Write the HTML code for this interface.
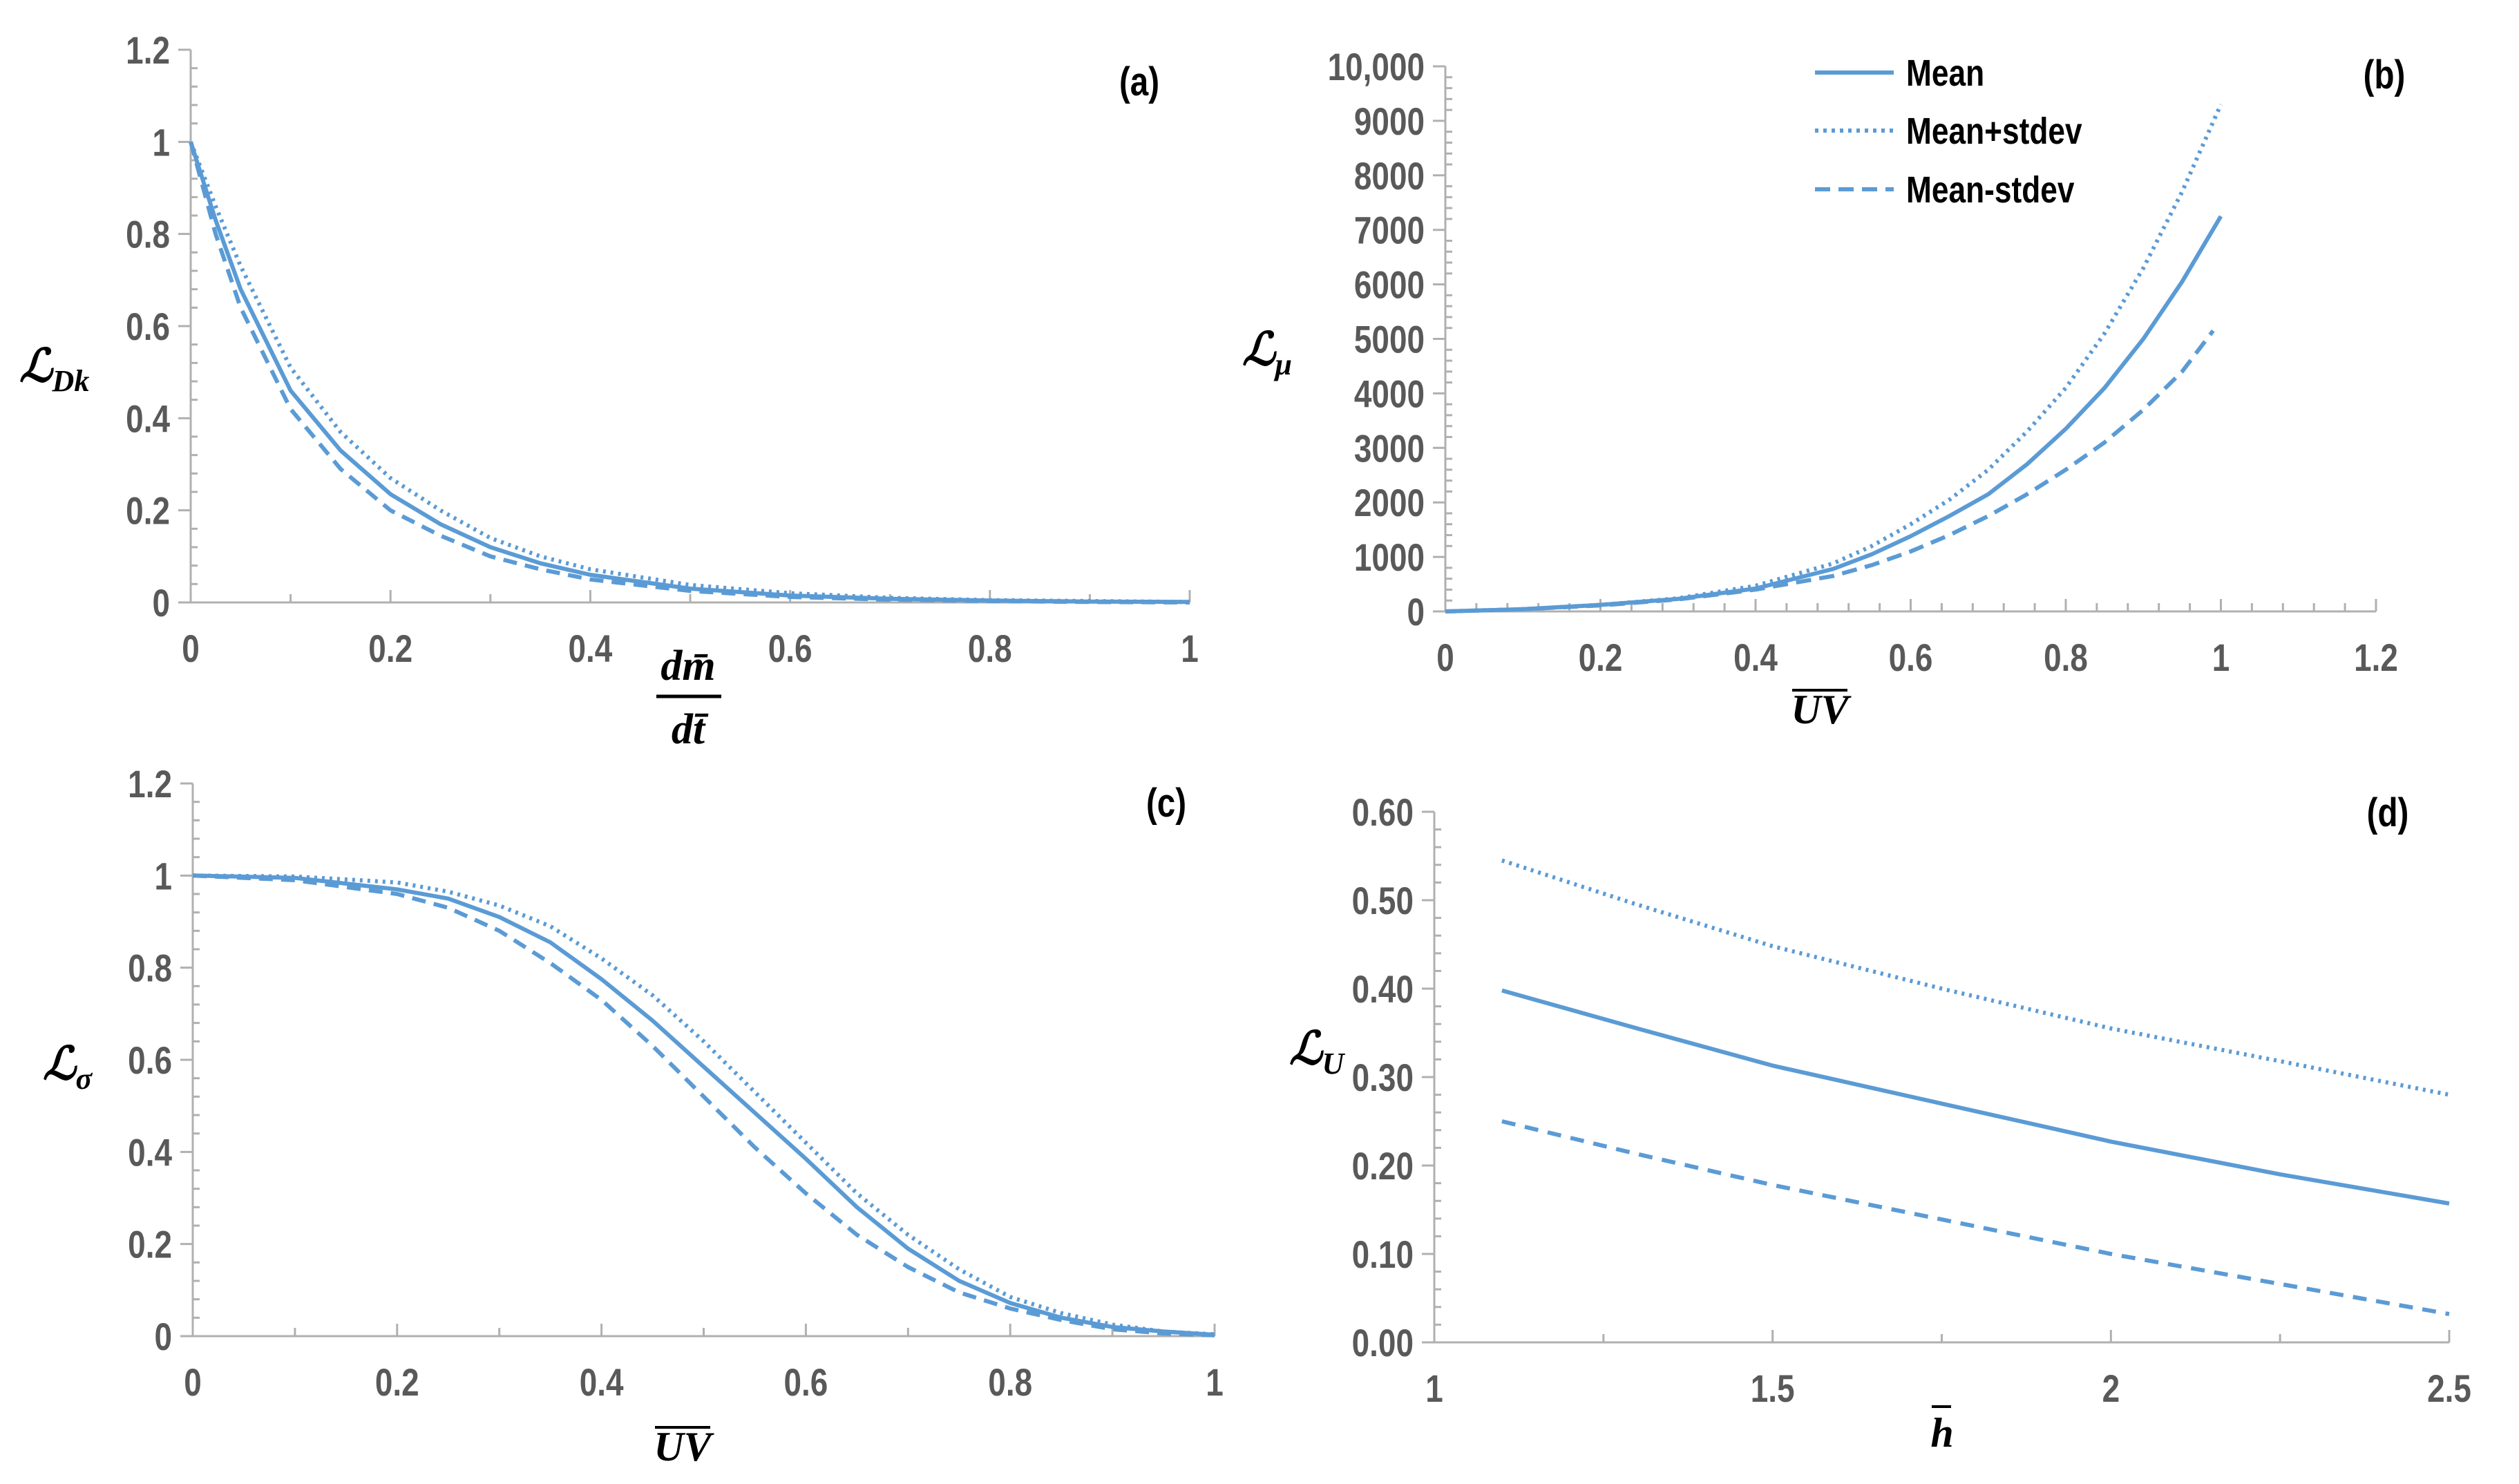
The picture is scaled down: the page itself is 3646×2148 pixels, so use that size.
<!DOCTYPE html>
<html><head><meta charset="utf-8"><style>
html,body{margin:0;padding:0;background:#fff;}
svg{display:block;}
text{font-family:"Liberation Sans Narrow","Liberation Sans",sans-serif;font-weight:bold;}
.tick{fill:#595959;font-size:56px;}
.math{font-family:"Liberation Serif","DejaVu Serif",serif;font-style:italic;font-weight:bold;fill:#000;}
.plabel{fill:#000;font-size:58px;}
.leg{fill:#000;font-size:54px;}
</style></head><body>
<svg id="fig" width="3646" height="2148" viewBox="0 0 3646 2148" xmlns="http://www.w3.org/2000/svg">
<g id="root"></g>
<text class="plabel" transform="translate(1649,138) scale(0.82,1)" text-anchor="middle">(a)</text>
<text class="plabel" transform="translate(3451,128) scale(0.82,1)" text-anchor="middle">(b)</text>
<text class="plabel" transform="translate(1688,1182) scale(0.82,1)" text-anchor="middle">(c)</text>
<text class="plabel" transform="translate(3456,1196) scale(0.82,1)" text-anchor="middle">(d)</text>

<text class="math" x="28" y="552" font-size="66">ℒ<tspan font-size="44" dy="14">Dk</tspan></text>
<g>
<text class="math" x="996" y="984" font-size="62" text-anchor="middle">dm̄</text>
<line x1="950" y1="1008" x2="1044" y2="1008" stroke="#000" stroke-width="5"/>
<text class="math" x="996" y="1076" font-size="62" text-anchor="middle">dt̄</text>
</g>
<text class="math" x="1798" y="528" font-size="66">ℒ<tspan font-size="44" dy="14">μ</tspan></text>
<g>
<line x1="2594" y1="999" x2="2674" y2="999" stroke="#000" stroke-width="4"/>
<text class="math" x="2634" y="1047" font-size="60" text-anchor="middle">UV</text>
</g>
<text class="math" x="62" y="1562" font-size="66">ℒ<tspan font-size="44" dy="14">σ</tspan></text>
<g>
<line x1="948" y1="2066" x2="1028" y2="2066" stroke="#000" stroke-width="4"/>
<text class="math" x="988" y="2114" font-size="60" text-anchor="middle">UV</text>
</g>
<text class="math" x="1866" y="1540" font-size="66">ℒ<tspan font-size="44" dy="14">U</tspan></text>
<g>
<line x1="2796" y1="2036" x2="2824" y2="2036" stroke="#000" stroke-width="4"/>
<text class="math" x="2811" y="2094" font-size="60" text-anchor="middle">h</text>
</g>

<g>
<g>
<line x1="2627" y1="105" x2="2741" y2="105" stroke="#5b9bd5" stroke-width="6"/>
<text class="leg" transform="translate(2759,124) scale(0.82,1)">Mean</text></g>
<g>
<line x1="2627" y1="189" x2="2741" y2="189" stroke="#5b9bd5" stroke-width="6" stroke-dasharray="5,7"/>
<text class="leg" transform="translate(2759,208) scale(0.82,1)">Mean+stdev</text></g>
<g>
<line x1="2627" y1="274" x2="2741" y2="274" stroke="#5b9bd5" stroke-width="6" stroke-dasharray="22,12"/>
<text class="leg" transform="translate(2759,293) scale(0.82,1)">Mean-stdev</text></g>
</g>
</svg>
<script>
// Panel (a)
const aX=[0,0.025,0.05,0.1,0.15,0.2,0.25,0.3,0.35,0.4,0.5,0.6,0.7,0.8,0.9,1];
const aMean=[1,0.83,0.68,0.46,0.33,0.235,0.17,0.12,0.085,0.06,0.03,0.015,0.008,0.004,0.002,0.001];
const aUpper=[1,0.86,0.73,0.51,0.37,0.27,0.2,0.14,0.1,0.072,0.038,0.02,0.01,0.005,0.003,0.001];
const aLower=[1,0.8,0.64,0.42,0.29,0.2,0.145,0.1,0.072,0.05,0.025,0.012,0.006,0.003,0.001,0];
const aYTicks=["0","0.2","0.4","0.6","0.8","1","1.2"];
const aXTicks=["0","0.2","0.4","0.6","0.8","1"];
// Panel (b)
const bX=[0,0.1,0.2,0.3,0.4,0.5,0.55,0.6,0.65,0.7,0.75,0.8,0.85,0.9,0.95,1];
const bMean=[0,40,120,230,420,780,1050,1380,1750,2150,2700,3350,4100,5000,6050,7250];
const bUpper=[0,40,120,240,470,880,1200,1600,2050,2600,3300,4100,5100,6300,7700,9300];
const bLowerX=[0,0.1,0.2,0.3,0.4,0.5,0.55,0.6,0.65,0.7,0.75,0.8,0.85,0.9,0.95,0.99];
const bLower=[0,40,110,220,400,650,850,1100,1400,1750,2150,2600,3100,3700,4400,5150];
const bYTicks=["0","1000","2000","3000","4000","5000","6000","7000","8000","9000","10,000"];
const bXTicks=["0","0.2","0.4","0.6","0.8","1","1.2"];
// Panel (c)
const cX=[0,0.1,0.2,0.25,0.3,0.35,0.4,0.45,0.5,0.55,0.6,0.65,0.7,0.75,0.8,0.85,0.9,0.95,1];
const cMean=[1,0.995,0.97,0.95,0.91,0.855,0.775,0.685,0.585,0.485,0.385,0.28,0.19,0.12,0.072,0.04,0.02,0.01,0.003];
const cUpper=[1,0.998,0.985,0.965,0.935,0.89,0.82,0.74,0.64,0.53,0.42,0.31,0.22,0.145,0.085,0.05,0.025,0.01,0.004];
const cLower=[1,0.99,0.96,0.93,0.88,0.81,0.73,0.63,0.52,0.41,0.31,0.22,0.15,0.095,0.06,0.035,0.015,0.006,0.002];
const cYTicks=["0","0.2","0.4","0.6","0.8","1","1.2"];
const cXTicks=["0","0.2","0.4","0.6","0.8","1"];
// Panel (d)
const dX=[1.1,1.3,1.5,1.75,2,2.25,2.5];
const dMean=[0.398,0.355,0.313,0.27,0.227,0.19,0.157];
const dUpper=[0.545,0.495,0.448,0.4,0.355,0.318,0.28];
const dLower=[0.25,0.213,0.178,0.139,0.10,0.066,0.032];
const dYTicks=["0.00","0.10","0.20","0.30","0.40","0.50","0.60"];
const dXTicks=["1","1.5","2","2.5"];

const NS="http://www.w3.org/2000/svg";
const root=document.getElementById('root');
function el(tag,attrs,parent){const e=document.createElementNS(NS,tag);for(const k in attrs)e.setAttribute(k,attrs[k]);(parent||root).appendChild(e);return e;}

function panel(id,cfg){
  const g=el('g',{});
  
  
  const sx=v=>cfg.x0+(v-cfg.xmin)/(cfg.xmax-cfg.xmin)*(cfg.x1-cfg.x0);
  const sy=v=>cfg.y0-(v-cfg.ymin)/(cfg.ymax-cfg.ymin)*(cfg.y0-cfg.y1);
  const ax=el('g',{},g);
  
  
  el('line',{x1:cfg.x0,y1:cfg.y0,x2:cfg.x0,y2:cfg.y1,stroke:'#b0b0b0','stroke-width':3},ax);
  el('line',{x1:cfg.x0,y1:cfg.y0,x2:cfg.x1,y2:cfg.y0,stroke:'#b0b0b0','stroke-width':3},ax);
  const nY=cfg.yticks.length-1;
  for(let i=0;i<=nY*cfg.yminor;i++){
    const v=cfg.ymin+i*(cfg.ymax-cfg.ymin)/(nY*cfg.yminor);const y=sy(v);
    const major=i%cfg.yminor===0;
    el('line',{x1:cfg.x0-(major?18:0),x2:cfg.x0+(major?0:10),y1:y,y2:y,stroke:'#b0b0b0','stroke-width':3},ax);
  }
  cfg.yticks.forEach((t,i)=>{
    const y=sy(cfg.ymin+i*(cfg.ymax-cfg.ymin)/nY);
    const tx=el('text',{class:'tick',transform:'translate('+(cfg.x0-30)+','+(y+20)+') scale(0.82,1)','text-anchor':'end'},ax);
    
    
    tx.textContent=t;
  });
  const nX=cfg.xticks.length-1;
  for(let i=0;i<=nX*cfg.xminor;i++){
    const v=cfg.xmin+i*(cfg.xmax-cfg.xmin)/(nX*cfg.xminor);const x=sx(v);
    const major=i%cfg.xminor===0;
    el('line',{x1:x,x2:x,y1:cfg.y0,y2:cfg.y0-(major?18:12),stroke:'#b0b0b0','stroke-width':3},ax);
  }
  cfg.xticks.forEach((t,i)=>{
    const x=sx(cfg.xmin+i*(cfg.xmax-cfg.xmin)/nX);
    const tx=el('text',{class:'tick',transform:'translate('+x+','+(cfg.y0+86)+') scale(0.82,1)','text-anchor':'middle'},ax);
    
    
    tx.textContent=t;
  });
  cfg.series.forEach(s=>{
    const d=s.x.map((xv,i)=>(i?'L':'M')+sx(xv).toFixed(1)+','+sy(s.y[i]).toFixed(1)).join(' ');
    const p=el('path',{d:d,fill:'none',stroke:'#5b9bd5','stroke-width':6,'stroke-linejoin':'round'},g);
    if(s.dash)p.setAttribute('stroke-dasharray',s.dash);
    
    
  });
}
panel('panel-a',{x0:276,x1:1722,y0:872,y1:72,xmin:0,xmax:1,ymin:0,ymax:1.2,yticks:aYTicks,xticks:aXTicks,yminor:5,xminor:2,
  series:[{name:'mean-plus-stdev',x:aX,y:aUpper,dash:'4,7'},{name:'mean-minus-stdev',x:aX,y:aLower,dash:'20,12'},{name:'mean',x:aX,y:aMean}]});
panel('panel-b',{x0:2092,x1:3439,y0:885,y1:96,xmin:0,xmax:1.2,ymin:0,ymax:10000,yticks:bYTicks,xticks:bXTicks,yminor:5,xminor:5,
  series:[{name:'mean-plus-stdev',x:bX,y:bUpper,dash:'4,7'},{name:'mean-minus-stdev',x:bLowerX,y:bLower,dash:'22,12'},{name:'mean',x:bX,y:bMean}]});
panel('panel-c',{x0:279,x1:1758,y0:1934,y1:1134,xmin:0,xmax:1,ymin:0,ymax:1.2,yticks:cYTicks,xticks:cXTicks,yminor:5,xminor:2,
  series:[{name:'mean-plus-stdev',x:cX,y:cUpper,dash:'4,7'},{name:'mean-minus-stdev',x:cX,y:cLower,dash:'20,12'},{name:'mean',x:cX,y:cMean}]});
panel('panel-d',{x0:2076,x1:3545,y0:1943,y1:1175,xmin:1,xmax:2.5,ymin:0,ymax:0.6,yticks:dYTicks,xticks:dXTicks,yminor:5,xminor:2,
  series:[{name:'mean-plus-stdev',x:dX,y:dUpper,dash:'4,7'},{name:'mean-minus-stdev',x:dX,y:dLower,dash:'20,14'},{name:'mean',x:dX,y:dMean}]});
</script>
</body></html>
